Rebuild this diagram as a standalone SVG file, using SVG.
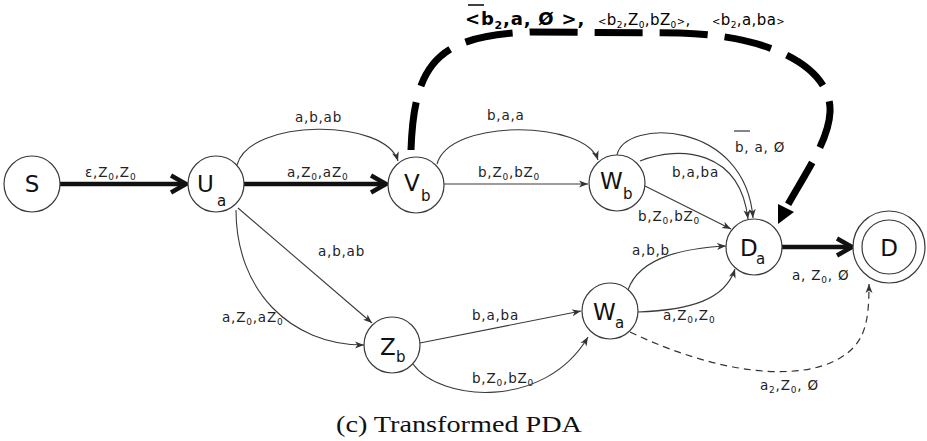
<svg xmlns="http://www.w3.org/2000/svg" width="927" height="441" viewBox="0 0 927 441">
  <defs>
    <style>
      .node circle { fill: #fff; stroke: #3a3a3a; stroke-width: 1.2; }
      .nl { font-family: "DejaVu Sans", Verdana, sans-serif; font-size: 23px; fill: #111; }
      .ns { font-size: 15px; }
      .edge { fill: none; stroke: #3a3a3a; stroke-width: 1.1; marker-end: url(#tip); }
      .thick { fill: none; stroke: #111; stroke-width: 4.5; marker-end: url(#chev); }
      .dash { fill: none; stroke: #333; stroke-width: 1.2; stroke-dasharray: 7 5; marker-end: url(#tip); }
      .big { fill: none; stroke: #000; stroke-width: 7; stroke-dasharray: 48 17; }
      .lbl { font-family: "DejaVu Sans", Verdana, sans-serif; font-size: 13.5px; letter-spacing: 0.8px; fill: #222; }
      .sb { font-size: 9px; }
      .top { font-family: "DejaVu Sans", Verdana, sans-serif; fill: #000; }
      .cap { font-family: "Liberation Serif", "Times New Roman", serif; font-size: 23px; fill: #111; }
    </style>
    <marker id="tip" markerUnits="userSpaceOnUse" markerWidth="10" markerHeight="8" refX="9" refY="4" orient="auto">
      <path d="M0,0.5 L9,4 L0,7.5 L2.5,4 Z" fill="#333"/>
    </marker>
    <marker id="chev" markerUnits="userSpaceOnUse" markerWidth="24" markerHeight="24" refX="19" refY="12" orient="auto" overflow="visible">
      <path d="M4,3.5 L19,12 L4,20.5" fill="none" stroke="#111" stroke-width="4.5"/>
    </marker>
  </defs>

  <!-- connectors -->
  <g id="edges">
    <path class="thick" d="M60,184 L186,184"/>
    <path class="thick" d="M244,184 L386,184"/>
    <path class="edge" d="M237,165 C250,118 385,118 398,161"/>
    <path class="edge" d="M437,164 C450,118 585,120 598,160"/>
    <path class="edge" d="M444,184 L588,184"/>
    <path class="edge" d="M617,155 C625,118 745,120 753,218"/>
    <path class="edge" d="M640,161 C680,145 740,150 748,219"/>
    <path class="edge" d="M645,186 L731,229"/>
    <path class="edge" d="M628,290 C640,255 690,248 726,246"/>
    <path class="edge" d="M638,312 C690,310 725,300 735,269"/>
    <path class="thick" d="M782,247 L852,247"/>
    <path class="dash" d="M630,332 C720,375 800,382 840,358 C866,343 869,320 869,284"/>
    <path class="edge" d="M238,208 L372,323"/>
    <path class="edge" d="M236,210 C236,290 290,345 364,345"/>
    <path class="edge" d="M420,343 L581,311"/>
    <path class="edge" d="M413,364 C440,402 545,410 588,337"/>
    <path class="big" d="M411,150 C414,60 440,36 530,32 L680,33 C780,36 832,72 830,112 C829,140 806,172 786,208"/>
    <polygon points="778,224 794,212 778,204" fill="#000"/>
  </g>

  <!-- edge labels -->
  <g id="labels">
    <text class="lbl" x="85" y="177">ε,Z<tspan class="sb" dy="3">0</tspan><tspan dy="-3">,Z</tspan><tspan class="sb" dy="3">0</tspan></text>
    <text class="lbl" x="287" y="177">a,Z<tspan class="sb" dy="3">0</tspan><tspan dy="-3">,aZ</tspan><tspan class="sb" dy="3">0</tspan></text>
    <text class="lbl" x="295" y="122">a,b,ab</text>
    <text class="lbl" x="487" y="120">b,a,a</text>
    <text class="lbl" x="478" y="177">b,Z<tspan class="sb" dy="3">0</tspan><tspan dy="-3">,bZ</tspan><tspan class="sb" dy="3">0</tspan></text>
    <text class="lbl" x="735" y="152">b, a, Ø</text>
    <line x1="734" y1="131" x2="750" y2="131" stroke="#222" stroke-width="1.1"/>
    <text class="lbl" x="672" y="177">b,a,ba</text>
    <text class="lbl" x="638" y="221">b,Z<tspan class="sb" dy="3">0</tspan><tspan dy="-3">,bZ</tspan><tspan class="sb" dy="3">0</tspan></text>
    <text class="lbl" x="632" y="255">a,b,b</text>
    <text class="lbl" x="663" y="320">a,Z<tspan class="sb" dy="3">0</tspan><tspan dy="-3">,Z</tspan><tspan class="sb" dy="3">0</tspan></text>
    <text class="lbl" x="792" y="280">a, Z<tspan class="sb" dy="3">0</tspan><tspan dy="-3">, Ø</tspan></text>
    <text class="lbl" x="760" y="390">a<tspan class="sb" dy="3">2</tspan><tspan dy="-3">,Z</tspan><tspan class="sb" dy="3">0</tspan><tspan dy="-3">, Ø</tspan></text>
    <text class="lbl" x="318" y="256">a,b,ab</text>
    <text class="lbl" x="222" y="322">a,Z<tspan class="sb" dy="3">0</tspan><tspan dy="-3">,aZ</tspan><tspan class="sb" dy="3">0</tspan></text>
    <text class="lbl" x="472" y="320">b,a,ba</text>
    <text class="lbl" x="472" y="383">b,Z<tspan class="sb" dy="3">0</tspan><tspan dy="-3">,bZ</tspan><tspan class="sb" dy="3">0</tspan></text>

    <text class="top" x="465" y="25" font-size="18" font-weight="bold" letter-spacing="0.8">&lt;b<tspan font-size="11" dy="4">2</tspan><tspan dy="-4">,a, Ø &gt;,</tspan></text>
    <line x1="468" y1="5" x2="484" y2="5" stroke="#000" stroke-width="1.5"/>
    <text class="top" x="598" y="25" font-size="15" letter-spacing="0.4"><tspan font-size="10">&lt;</tspan>b<tspan font-size="9" dy="3">2</tspan><tspan dy="-3">,Z</tspan><tspan font-size="9" dy="3">0</tspan><tspan dy="-3">,bZ</tspan><tspan font-size="9" dy="3">0</tspan><tspan dy="-3" font-size="10">&gt;</tspan>,</text>
    <text class="top" x="712" y="25" font-size="15" letter-spacing="0.4"><tspan font-size="10">&lt;</tspan>b<tspan font-size="9" dy="3">2</tspan><tspan dy="-3">,a,ba</tspan><tspan font-size="10">&gt;</tspan></text>
  </g>

  <!-- states -->
  <g id="S" class="node">
    <circle cx="32" cy="184" r="28"/>
    <text class="nl" x="32" y="192" text-anchor="middle">S</text>
  </g>
  <g id="Ua" class="node">
    <circle cx="216" cy="184" r="28"/>
    <text class="nl" x="197" y="192">U</text>
    <text class="nl ns" x="217" y="206">a</text>
  </g>
  <g id="Vb" class="node">
    <circle cx="416" cy="185" r="28"/>
    <text class="nl" x="404" y="191">V</text>
    <text class="nl ns" x="421" y="201">b</text>
  </g>
  <g id="Wb" class="node">
    <circle cx="617" cy="183" r="28"/>
    <text class="nl" x="600" y="189">W</text>
    <text class="nl ns" x="623" y="199">b</text>
  </g>
  <g id="Da" class="node">
    <circle cx="754" cy="247" r="28"/>
    <text class="nl" x="740" y="256">D</text>
    <text class="nl ns" x="756" y="264">a</text>
  </g>
  <g id="D" class="node">
    <circle cx="889" cy="247" r="36"/>
    <circle cx="889" cy="247" r="27"/>
    <text class="nl" x="889" y="256" text-anchor="middle">D</text>
  </g>
  <g id="Wa" class="node">
    <circle cx="610" cy="311" r="28"/>
    <text class="nl" x="593" y="320">W</text>
    <text class="nl ns" x="615" y="328">a</text>
  </g>
  <g id="Zb" class="node">
    <circle cx="392" cy="345" r="28"/>
    <text class="nl" x="380" y="355">Z</text>
    <text class="nl ns" x="396" y="362">b</text>
  </g>

  <text class="cap" x="336" y="432" textLength="246" lengthAdjust="spacingAndGlyphs">(c) Transformed PDA</text>
</svg>
